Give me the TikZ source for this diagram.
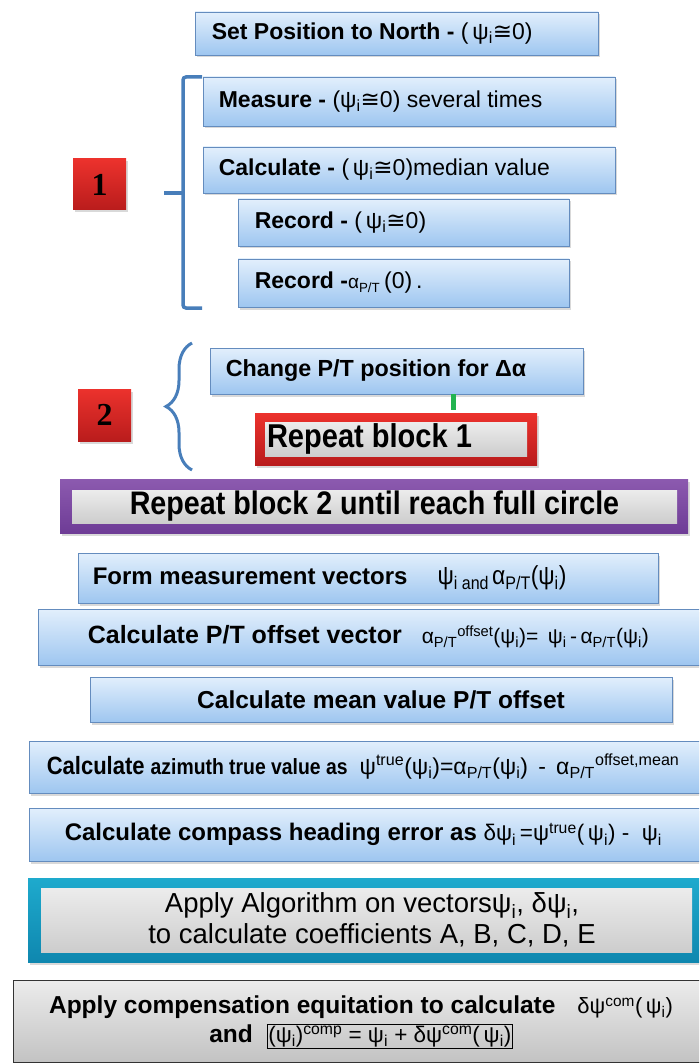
\documentclass[tikz,border=0pt]{standalone}
\usepackage{fontspec}
\setmainfont{Liberation Sans}
\newfontfamily\nar[FakeStretch=0.88]{Liberation Sans}
\newfontfamily\djv{DejaVu Sans}
\newfontfamily\ser{Liberation Serif}
\usetikzlibrary{shadows,decorations.pathreplacing}
\definecolor{btop}{RGB}{226,239,252}
\definecolor{bbot}{RGB}{158,198,240}
\definecolor{bdr}{RGB}{100,140,190}
\definecolor{rtop}{RGB}{236,50,45}
\definecolor{rbot}{RGB}{185,28,28}
\definecolor{ptop}{RGB}{140,90,175}
\definecolor{pbot}{RGB}{110,60,150}
\definecolor{ttop}{RGB}{30,170,205}
\definecolor{tbot}{RGB}{15,135,175}
\definecolor{gtop}{RGB}{236,236,236}
\definecolor{gbot}{RGB}{205,205,205}
\definecolor{brc}{RGB}{72,126,186}
\definecolor{grn}{RGB}{35,180,80}
\newcommand\psiI{ψ\textsubscript{i}}
\newcommand\cg{{\djv≅}}
\newcommand\fs[1]{\fontsize{#1}{#1}\selectfont}
\newcommand\bx[6][bbox]{\node[#1, minimum width={(#5-#3)*1pt}, minimum height={(#6-#4)*1pt}] (#2) at ({(#3+#5)/2},{(#4+#6)/2}) {};}
\tikzset{
  bbox/.style={draw=bdr, line width=0.8pt, top color=btop, bottom color=bbot, inner sep=0pt,
    drop shadow={opacity=0.3, shadow xshift=1.5pt, shadow yshift=-2.5pt}},
  redbox/.style={top color=rtop, bottom color=rbot, inner sep=0pt,
    drop shadow={opacity=0.3, shadow xshift=1.5pt, shadow yshift=-2.5pt}},
  purbox/.style={top color=ptop, bottom color=pbot, inner sep=0pt,
    drop shadow={opacity=0.3, shadow xshift=1.5pt, shadow yshift=-2.5pt}},
  tealbox/.style={top color=ttop, bottom color=tbot, inner sep=0pt,
    drop shadow={opacity=0.3, shadow xshift=1.5pt, shadow yshift=-2.5pt}},
  graybox/.style={top color=gtop, bottom color=gbot, inner sep=0pt},
  compbox/.style={draw=black!80, line width=0.8pt, top color=gtop, bottom color=gbot!95!black, inner sep=0pt},
  txt/.style={anchor=west, inner sep=0pt, text=black},
  ctxt/.style={inner sep=0pt, text=black, align=center},
  brline/.style={draw=brc, line width=3.5pt},
}
\begin{document}
\begin{tikzpicture}[x=1pt,y=-1pt]
\useasboundingbox (0,0) rectangle (699,1064);
\clip (0,0) rectangle (699,1064);
% block 1
\bx{sp}{195}{12}{598}{55}
\node[txt, font=\fs{23}] (tsp) at ([xshift=17pt]sp.west) {\textbf{Set Position to North -} (\,\psiI\cg0)};
\bx{ms}{203}{77}{615}{126}
\node[txt, font=\fs{23}] (tms) at ([xshift=16pt]ms.west) {\textbf{Measure -} (\psiI\cg0) several times};
\bx{cl}{203}{147}{615}{193}
\node[txt, font=\fs{23}] (tcl) at ([xshift=16pt]cl.west) {\textbf{Calculate -} (\,\psiI\cg0)median value};
\bx{rc1}{238}{199}{569}{246}
\node[txt, font=\fs{23}] (trc1) at ([xshift=17pt]rc1.west) {\textbf{Record -} (\,\psiI\cg0)};
\bx{rc2}{238}{259}{569}{307}
\node[txt, font=\fs{23}] (trc2) at ([xshift=17pt]rc2.west) {\textbf{Record -}{\fs{19}α\textsubscript{P/T}}\,(0)\,.};
\draw[brline, rounded corners=3pt] (202,77) -- (183,77) -- (183,308) -- (202,308);
\draw[brline] (183,193) -- (164,193);
\node[redbox, minimum width=53pt, minimum height=51pt, font=\ser\bfseries\fs{32}] (n1) at (99.5,184.5) {1};
% block 2
\bx{ch}{210}{348}{583}{394}
\node[txt, font=\fs{23.3}\bfseries] (tch) at ([xshift=16pt]ch.west) {Change P/T position for Δα};
\coordinate (g) at (453,410);
\draw[grn, line width=5pt] (ch.south -| g) -- (g);
\bx[redbox]{rp1o}{255}{413}{537}{465}
\bx[graybox]{rp1}{265}{422}{527}{456}
\node[txt, font=\nar\bfseries\fs{33}] (trp1) at ([xshift=2pt]rp1.west) {Repeat block 1};
\draw[brline, line width=3pt, decorate, decoration={brace, amplitude=26pt}] (192,470) -- (192,343);
\node[redbox, minimum width=53pt, minimum height=52pt, font=\ser\bfseries\fs{32}] (n2) at (104.5,415) {2};
% repeat block 2
\bx[purbox]{rp2o}{60}{479}{688}{533}
\bx[graybox]{rp2}{72}{490}{677}{523}
\node[ctxt, font=\nar\bfseries\fs{32.6}] (trp2) at (rp2.center) {Repeat block 2 until reach full circle};
% lower boxes
\bx{fm}{78}{553}{658}{603}
\node[txt, font=\fs{24}] (tfm) at ([xshift=15pt]fm.west) {\textbf{Form measurement vectors}\hspace{30pt}{\nar\fs{26}ψ\textsubscript{i and\,}α\textsubscript{P/T}(\psiI)}};
\bx{co}{38}{609}{712}{665}
\node[txt, font=\fs{25}] (tco) at ([xshift=50pt]co.west) {\textbf{Calculate P/T offset vector}\hspace{20pt}{\fs{21}α\textsubscript{P/T}\textsuperscript{offset}(\psiI)=\, \psiI\,-\,α\textsubscript{P/T}(\psiI)}};
\bx{mn}{90}{677}{672}{722}
\node[ctxt, font=\bfseries\fs{24.5}] (tmn) at (mn.center) {Calculate mean value P/T offset};
\bx{az}{29}{741}{712}{793}
\node[txt, font=\nar\fs{25}] (taz) at ([xshift=18pt]az.west) {\textbf{Calculate {\fs{22}azimuth true value as}}\hspace{12pt}{\normalfont\fs{23}ψ\textsuperscript{true}(\psiI)=α\textsubscript{P/T}(\psiI)\, -\, α\textsubscript{P/T}\textsuperscript{offset,mean}}};
\bx{cp}{29}{808}{712}{861}
\node[txt, font=\fs{24}] (tcp) at ([xshift=36pt]cp.west) {\textbf{Calculate compass heading error as} {\fs{22.5}δ\psiI\,=ψ\textsuperscript{true}(\,\psiI) -\ \ \psiI}};
\bx[tealbox]{alo}{28}{878}{712}{962}
\bx[graybox]{al}{41}{888}{692}{952}
\node[ctxt, font=\fs{27.5}] (tal) at (372,920) {Apply Algorithm on vectors\psiI, δ\psiI,\\[3pt]to calculate coefficients A, B, C, D, E};
\bx[compbox]{cm}{13}{980}{712}{1062}
\node[ctxt, font=\fs{24.5}] (tcm) at (361,1022) {\textbf{Apply compensation equitation to calculate}\hspace{22pt}{\fs{22}δψ\textsuperscript{com}(\,\psiI)}\\[4pt]\textbf{and}\hspace{14pt}{\fs{22.5}\setlength{\fboxsep}{1pt}\fbox{(\psiI)\textsuperscript{comp} = \psiI\ + δψ\textsuperscript{com}(\,\psiI)}}};
\end{tikzpicture}
\end{document}
